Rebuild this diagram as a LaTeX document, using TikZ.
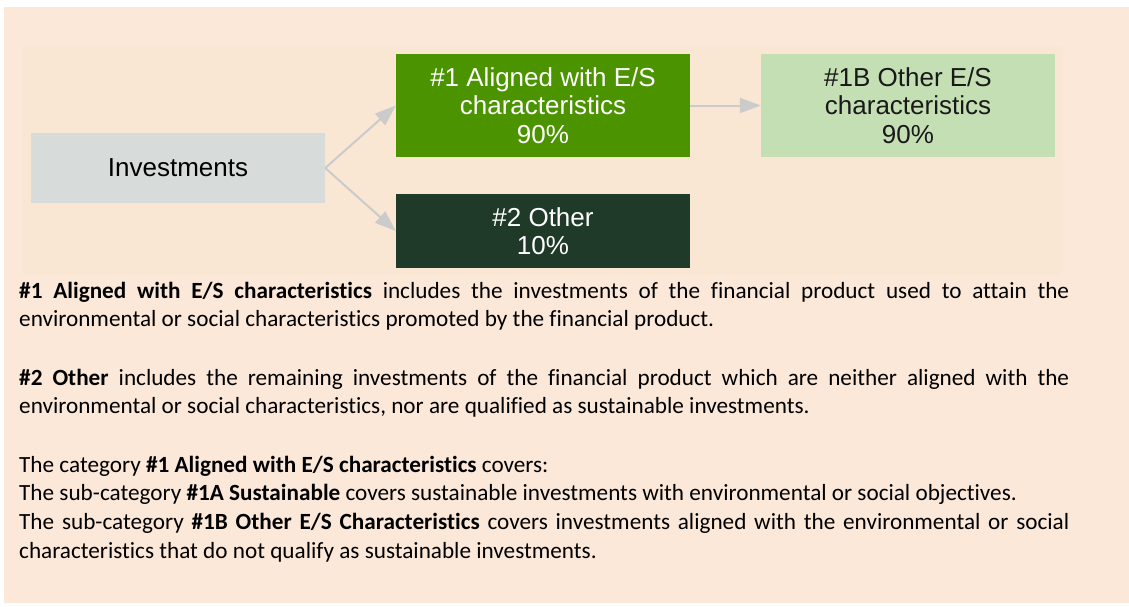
\documentclass[tikz,border=0pt]{standalone}
\usepackage{fontspec}
\setmainfont{Carlito}[Ligatures=NoCommon]
\newfontfamily\boxfont{Liberation Sans}
\usetikzlibrary{arrows.meta,positioning}
\definecolor{peach}{HTML}{FBE8D9}
\definecolor{panel}{HTML}{F9E6D3}
\definecolor{investgrey}{HTML}{D7DCDB}
\definecolor{alignedgreen}{HTML}{4B9400}
\definecolor{otherdark}{HTML}{1F3A28}
\definecolor{subgreen}{HTML}{C5DFB4}
\definecolor{arrowgrey}{HTML}{CBCBCB}
\hyphenpenalty=10000
\exhyphenpenalty=10000
\lefthyphenmin=62
\righthyphenmin=62
\tikzset{%
	catbox/.style     = {rectangle, inner sep=0pt, minimum width=294pt, align=center, font=\boxfont\fontsize{26}{28.5}\selectfont},
	investbox/.style  = {catbox, fill=investgrey, minimum height=70pt, text=black},
	alignedbox/.style = {catbox, fill=alignedgreen, minimum height=103pt, text=white},
	otherbox/.style   = {catbox, fill=otherdark, minimum height=74pt, text=white},
	subbox/.style     = {catbox, fill=subgreen, minimum height=103pt, text=black!90},
	arrow/.style      = {draw=arrowgrey, line width=2pt, -{Triangle[length=21pt,width=15pt]}},
	note/.style       = {anchor=base west, inner sep=0pt, text width=1050pt, align=justify, font=\fontsize{23.2}{28.8}\selectfont},
}

\begin{document}
\begin{tikzpicture}[x=1pt,y=-1pt]
		\useasboundingbox (0,0) rectangle (1129,606);
		\fill[peach] (4,7) rectangle (1129,603);
		\fill[panel] (23,46) rectangle (1062,275);
		
		\node[investbox] (invest) at (178,168) {\raisebox{-2pt}{Investments}};
		\node[alignedbox] (aligned) at (543,105.5) {\#1 Aligned with E/S\\characteristics\\90\%};
		\node[otherbox] (other) at (543,231) {\#2 Other\\10\%};
		\node[subbox] (otheres) at (908,105.5) {\#1B Other E/S\\characteristics\\90\%};
		
		\draw[arrow] (invest.east) -- (aligned.west);
		\draw[arrow] (invest.east) -- (other.west);
		\draw[arrow] (aligned.east) -- (otheres.west);
		
		\node[note] (notealigned) at (19,298) {\textbf{\#1 Aligned with E/S characteristics} includes the investments of the financial product used to attain the environmental or social characteristics promoted by the financial product.};
		\node[note] (noteother) at (19,385) {\textbf{\#2 Other} includes the remaining investments of the financial product which are neither aligned with the environmental or social characteristics, nor are qualified as sustainable investments.};
		\node[note] (notecategory) at (19,472) {The category \textbf{\#1 Aligned with E/S characteristics} covers:\\
		The sub-category \textbf{\#1A Sustainable} covers sustainable investments with environmental or social objectives.\\
		The sub-category \textbf{\#1B Other E/S Characteristics} covers investments aligned with the environmental or social characteristics that do not qualify as sustainable investments.};
\end{tikzpicture}
\end{document}
